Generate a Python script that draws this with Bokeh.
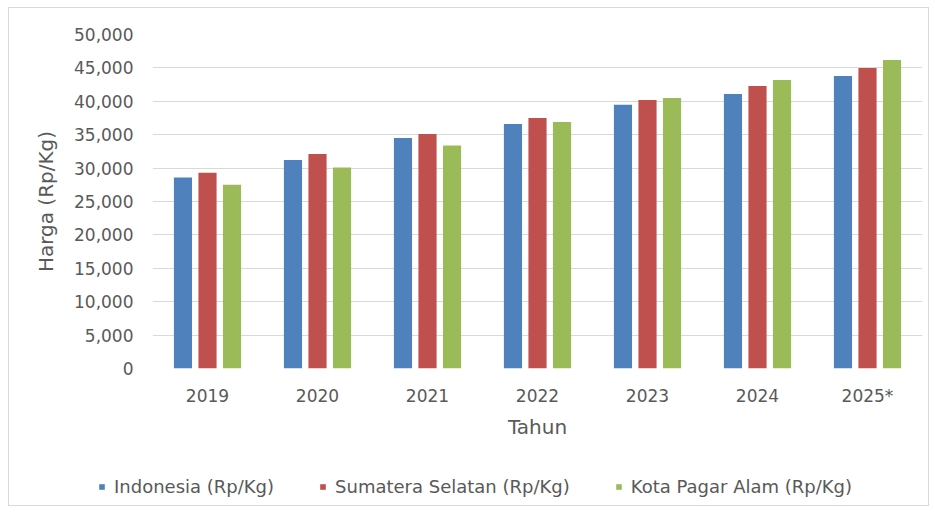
from bokeh.plotting import figure
from bokeh.layouts import column
from bokeh.models import (ColumnDataSource, FactorRange, Range1d, NumeralTickFormatter,
                          SingleIntervalTicker, Legend, LegendItem)
from bokeh.transform import dodge
from bokeh.embed import file_html
from bokeh.resources import INLINE

# ---- data ----
years = ["2019", "2020", "2021", "2022", "2023", "2024", "2025*"]
indonesia = [28600, 31200, 34500, 36600, 39500, 41100, 43800]
sumatera_selatan = [29300, 32100, 35100, 37500, 40200, 42300, 45000]
kota_pagar_alam = [27500, 30100, 33400, 36900, 40500, 43200, 46200]
series_names = ["Indonesia (Rp/Kg)", "Sumatera Selatan (Rp/Kg)", "Kota Pagar Alam (Rp/Kg)"]
colors = ["#4F81BD", "#C0504D", "#9BBB59"]

FONT = "DejaVu Sans"
TXT = "#595959"
GRID = "#D9D9D9"

src = ColumnDataSource(dict(year=years, ind=indonesia, ss=sumatera_selatan, kpa=kota_pagar_alam))
fields = ["ind", "ss", "kpa"]

p = figure(x_range=FactorRange(factors=years), y_range=Range1d(0, 50000),
           width=919, height=447, output_backend="svg", toolbar_location=None,
           min_border_left=143, min_border_right=6, min_border_top=26, min_border_bottom=87)
p.outline_line_color = None
p.background_fill_color = "white"
p.border_fill_color = "white"
p.frame_align = False

offsets = [-0.223, 0.0, 0.223]
for f, off, c in zip(fields, offsets, colors):
    p.vbar(x=dodge("year", off, range=p.x_range), top=f, width=0.165, source=src,
           fill_color=c, line_color=None)

# axes
p.yaxis.ticker = SingleIntervalTicker(interval=5000, num_minor_ticks=0)
p.yaxis.formatter = NumeralTickFormatter(format="0,0")
for ax in (p.xaxis[0], p.yaxis[0]):
    ax.axis_line_color = None
    ax.major_tick_line_color = None
    ax.minor_tick_line_color = None
    ax.major_tick_out = 0
    ax.major_tick_in = 0
    ax.major_label_text_font = FONT
    ax.major_label_text_color = TXT
    ax.major_label_text_font_size = "17px"
    ax.axis_label_text_font = FONT
    ax.axis_label_text_color = TXT
    ax.axis_label_text_font_size = "20px"
    ax.axis_label_text_font_style = "normal"

p.yaxis.axis_label = "Harga (Rp/Kg)"
p.yaxis.major_label_standoff = 19
p.yaxis.axis_label_standoff = 13
p.xaxis.axis_label = "Tahun"
p.xaxis.major_label_standoff = 17
p.xaxis.axis_label_standoff = 6

p.xgrid.grid_line_color = None
p.ygrid.grid_line_color = GRID
p.ygrid.grid_line_width = 1

# ---- legend strip (zero-width, out-of-view bars: only their legend swatches show) ----
lg = figure(x_range=FactorRange(factors=years), y_range=Range1d(-2, -1),
            width=919, height=50, output_backend="svg", toolbar_location=None,
            x_axis_location=None, y_axis_location=None, min_border=0)
lg.frame_align = False
lg.outline_line_color = None
lg.grid.visible = False
lg.background_fill_color = "white"
lg.border_fill_color = "white"
swatches = [lg.vbar(x="year", top=f, width=0, source=src, fill_color=c, line_color=None)
            for f, c in zip(fields, colors)]

legend = Legend(items=[LegendItem(label=n, renderers=[r]) for n, r in zip(series_names, swatches)],
                orientation="horizontal", location=(89, 8),
                glyph_width=7, glyph_height=7, label_standoff=9, spacing=45,
                padding=0, margin=0, border_line_color=None, background_fill_alpha=0,
                label_text_font=FONT, label_text_color=TXT, label_text_font_size="18px")
lg.add_layout(legend, "center")

layout = column(p, lg, spacing=0)
layout.margin = (7, 0, 0, 8)
layout.styles = {"border": "1px solid #D9D9D9", "background-color": "white"}

open("out.html", "w").write(file_html(layout, INLINE))
